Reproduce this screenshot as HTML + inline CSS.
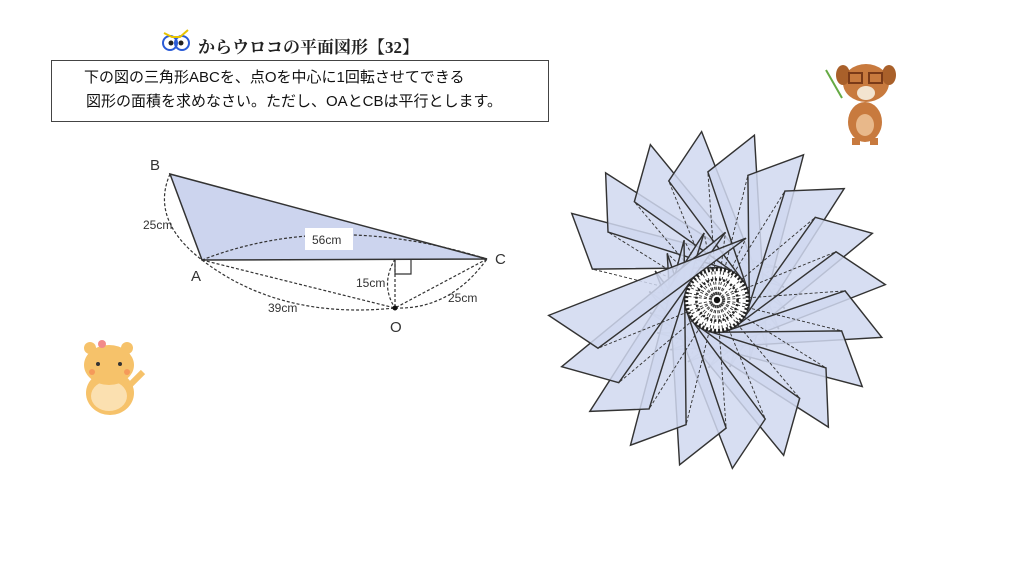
<!DOCTYPE html>
<html><head><meta charset="utf-8"><style>
html,body{margin:0;padding:0;background:#fff;}
body{width:1024px;height:581px;position:relative;overflow:hidden;font-family:"Liberation Sans","Noto Sans CJK JP",sans-serif;}
.t{position:absolute;white-space:nowrap;}
</style></head><body>
<div class="t" style="left:198px;top:33px;font-family:'Liberation Serif','Noto Serif CJK SC',serif;font-size:17px;font-weight:bold;color:#222;">からウロコの平面図形【32】</div>
<div style="position:absolute;left:51px;top:60px;width:496px;height:60px;border:1.5px solid #444;"></div>
<div class="t" style="left:84px;top:66px;font-size:15px;color:#111;">下の図の三角形ABCを、点Oを中心に1回転させてできる</div>
<div class="t" style="left:86px;top:90px;font-size:15px;color:#111;">図形の面積を求めなさい。ただし、OAとCBは平行とします。</div>
<svg width="1024" height="581" style="position:absolute;left:0;top:0" xmlns="http://www.w3.org/2000/svg">
<circle cx="170" cy="43" r="7" fill="none" stroke="#2a5bd7" stroke-width="2"/>
<circle cx="182" cy="43" r="7" fill="none" stroke="#2a5bd7" stroke-width="2"/>
<circle cx="171" cy="43" r="2.5" fill="#222"/><circle cx="181" cy="43" r="2.5" fill="#222"/>
<path d="M164 33 L172 37 L180 37 L188 30" stroke="#e8c400" stroke-width="2" fill="none"/>
<polygon points="170,174 202,260 487,259" fill="#ccd4ee" stroke="#333" stroke-width="1.5"/>
<g fill="none" stroke="#333" stroke-width="1.2" stroke-dasharray="3,2">
<line x1="202" y1="260" x2="395" y2="308"/>
<line x1="487" y1="259" x2="395" y2="308"/>
<line x1="395" y1="259" x2="395" y2="308"/>
<path d="M202 260 Q330 210 487 259"/>
<path d="M202 260 Q280 320 395 308"/>
<path d="M395 308 Q450 310 487 259"/>
<path d="M170 174 Q150 220 202 260"/>
<path d="M395 259 Q380 285 395 308"/>
</g>
<polyline points="395,259 395,274 411,274 411,259" fill="none" stroke="#333" stroke-width="1.2"/>
<circle cx="395" cy="308" r="2.5" fill="#111"/>
<rect x="305" y="228" width="48" height="22" fill="#fff"/>
<g font-family="Liberation Sans, sans-serif" fill="#333">
<text x="312" y="244" font-size="12">56cm</text>
<text x="143" y="229" font-size="12">25cm</text>
<text x="356" y="287" font-size="12">15cm</text>
<text x="448" y="302" font-size="12">25cm</text>
<text x="268" y="312" font-size="12">39cm</text>
<text x="150" y="170" font-size="15">B</text>
<text x="191" y="281" font-size="15">A</text>
<text x="495" y="264" font-size="15">C</text>
<text x="390" y="332" font-size="15">O</text>
</g>
<defs>
<g id="tri">
<polygon points="-141,-84 -121,-30 58,-32" fill="#d0d8f0" fill-opacity="0.85" stroke="#333" stroke-width="1.4"/>
<line x1="0" y1="0" x2="-121" y2="-30" stroke="#333" stroke-width="0.9" stroke-dasharray="3,2"/>
<line x1="0" y1="0" x2="58" y2="-32" stroke="#333" stroke-width="0.9" stroke-dasharray="3,2"/>
</g>
</defs>
<g transform="translate(717,300) scale(1.03)">
<use href="#tri" transform="rotate(0)"/><use href="#tri" transform="rotate(18)"/>
<use href="#tri" transform="rotate(36)"/><use href="#tri" transform="rotate(54)"/>
<use href="#tri" transform="rotate(72)"/><use href="#tri" transform="rotate(90)"/>
<use href="#tri" transform="rotate(108)"/><use href="#tri" transform="rotate(126)"/>
<use href="#tri" transform="rotate(144)"/><use href="#tri" transform="rotate(162)"/>
<use href="#tri" transform="rotate(180)"/><use href="#tri" transform="rotate(198)"/>
<use href="#tri" transform="rotate(216)"/><use href="#tri" transform="rotate(234)"/>
<use href="#tri" transform="rotate(252)"/><use href="#tri" transform="rotate(270)"/>
<use href="#tri" transform="rotate(288)"/><use href="#tri" transform="rotate(306)"/>
<use href="#tri" transform="rotate(324)"/>
<circle r="30" fill="none" stroke="#222" stroke-width="4" stroke-dasharray="2,2"/>
<circle r="20" fill="none" stroke="#222" stroke-width="2.5" stroke-dasharray="2,2"/>
<circle r="3" fill="#111"/>
</g>
<line x1="826" y1="70" x2="842" y2="98" stroke="#6a4" stroke-width="2"/>
<ellipse cx="865" cy="122" rx="17" ry="20" fill="#c87a3e"/>
<ellipse cx="865" cy="125" rx="9" ry="11" fill="#e8b88a"/>
<ellipse cx="866" cy="83" rx="23" ry="19" fill="#c87a3e"/>
<ellipse cx="843" cy="75" rx="7" ry="10" fill="#a9602a"/><ellipse cx="889" cy="75" rx="7" ry="10" fill="#a9602a"/>
<ellipse cx="866" cy="93" rx="9" ry="7" fill="#f3e4d0"/>
<rect x="849" y="73" width="13" height="10" fill="none" stroke="#7a3a18" stroke-width="2"/>
<rect x="869" y="73" width="13" height="10" fill="none" stroke="#7a3a18" stroke-width="2"/>
<rect x="852" y="138" width="8" height="7" fill="#c87a3e"/><rect x="870" y="138" width="8" height="7" fill="#c87a3e"/>
<ellipse cx="110" cy="393" rx="24" ry="22" fill="#f6c26a"/>
<ellipse cx="109" cy="396" rx="18" ry="15" fill="#fbe0b0"/>
<ellipse cx="109" cy="365" rx="25" ry="20" fill="#f6c26a"/>
<circle cx="90" cy="348" r="6" fill="#f6c26a"/><circle cx="127" cy="348" r="6" fill="#f6c26a"/>
<circle cx="102" cy="344" r="4" fill="#f28a8a"/>
<circle cx="98" cy="364" r="2" fill="#333"/><circle cx="120" cy="364" r="2" fill="#333"/>
<circle cx="92" cy="372" r="3" fill="#f59a5a"/><circle cx="127" cy="372" r="3" fill="#f59a5a"/>
<path d="M130 385 L143 372" stroke="#f6c26a" stroke-width="6"/>
</svg>
</body></html>
